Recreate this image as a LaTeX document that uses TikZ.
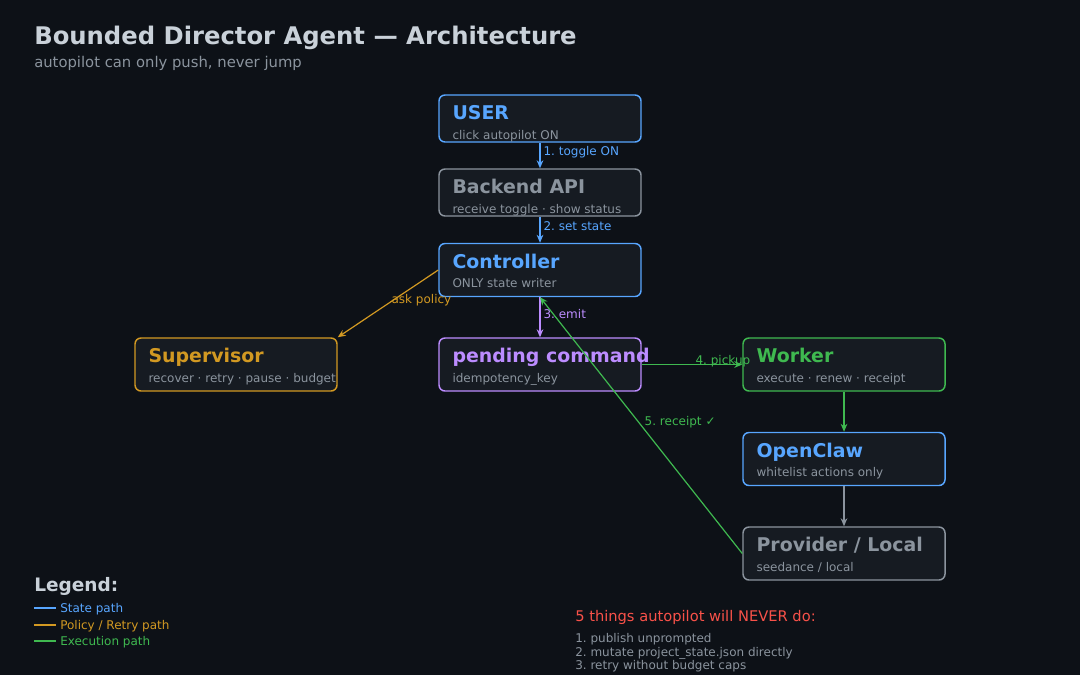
\documentclass[tikz,border=0pt]{standalone}
\usepackage{fontspec}
\setmainfont{DejaVu Sans}
\usetikzlibrary{arrows.meta,calc}
\definecolor{bgdark}{HTML}{0D1117}
\definecolor{boxfill}{HTML}{161B22}
\definecolor{headtxt}{HTML}{C9D1D9}
\definecolor{txtgray}{HTML}{8B949E}
\definecolor{cblue}{HTML}{58A6FF}
\definecolor{corange}{HTML}{D29922}
\definecolor{cpurple}{HTML}{BC8CFF}
\definecolor{cgreen}{HTML}{3FB950}
\definecolor{cred}{HTML}{F85149}
\frenchspacing
\begin{document}
\begin{tikzpicture}[
        x=0.75pt, y=-0.75pt,
        box/.style={rectangle, rounded corners=4.5pt, draw=#1, line width=1.1pt, fill=boxfill, minimum width=151.5pt, minimum height=39.75pt, inner sep=0pt},
        ttl/.style={text=#1, font=\bfseries\fontsize{14.2}{17}\selectfont, inner sep=0pt, anchor=base west},
        sub/.style={text=txtgray, font=\fontsize{9}{11}\selectfont, inner sep=0pt, anchor=base west},
        flow/.style={draw=#1, line width=0.9pt, -{Stealth[length=6pt,width=5pt]}},
        lbl/.style={text=#1, font=\fontsize{9}{11}\selectfont, inner sep=0pt, anchor=west, xshift=2.25pt, yshift=2.5pt},
        note/.style={font=\fontsize{9}{11}\selectfont, inner sep=0pt, anchor=base west}
    ]
    \fill[bgdark] (0,0) rectangle (1080,675);

    % heading
    \node[anchor=base west, inner sep=0pt, text=headtxt, font=\bfseries\fontsize{18.2}{22}\selectfont] (title) at (34,44) {Bounded Director Agent — Architecture};
    \node[anchor=base west, inner sep=0pt, text=txtgray, font=\fontsize{11.1}{13}\selectfont] (subtitle) at (34,67.5) {autopilot can only push, never jump};

    % boxes
    \node[box=cblue, minimum height=35.25pt] (user) at (540,118.5) {};
    \node[box=txtgray, minimum height=35.25pt] (backend) at (540,192.5) {};
    \node[box=cblue] (controller) at (540,270) {};
    \node[box=corange] (supervisor) at (236,364.5) {};
    \node[box=cpurple] (pending) at (540,364.5) {};
    \node[box=cgreen] (worker) at (844,364.5) {};
    \node[box=cblue] (openclaw) at (844,459) {};
    \node[box=txtgray] (provider) at (844,553.5) {};

    \node[ttl=cblue] (userT) at ($(user.north west)+(14,25.5)$) {USER};
    \node[sub] (userS) at ($(user.north west)+(14,45)$) {click autopilot ON};
    \node[ttl=txtgray] (backendT) at ($(backend.north west)+(14,25.5)$) {Backend API};
    \node[sub] (backendS) at ($(backend.north west)+(14,45)$) {receive toggle · show status};
    \node[ttl=cblue] (controllerT) at ($(controller.north west)+(14,25.5)$) {Controller};
    \node[sub] (controllerS) at ($(controller.north west)+(14,45)$) {ONLY state writer};
    \node[ttl=corange] (supervisorT) at ($(supervisor.north west)+(14,25.5)$) {Supervisor};
    \node[sub] (supervisorS) at ($(supervisor.north west)+(14,45)$) {recover · retry · pause · budget};
    \node[ttl=cpurple] (pendingT) at ($(pending.north west)+(14,25.5)$) {pending command};
    \node[sub] (pendingS) at ($(pending.north west)+(14,45)$) {idempotency\_key};
    \node[ttl=cgreen] (workerT) at ($(worker.north west)+(14,25.5)$) {Worker};
    \node[sub] (workerS) at ($(worker.north west)+(14,45)$) {execute · renew · receipt};
    \node[ttl=cblue] (openclawT) at ($(openclaw.north west)+(14,25.5)$) {OpenClaw};
    \node[sub] (openclawS) at ($(openclaw.north west)+(14,45)$) {whitelist actions only};
    \node[ttl=txtgray] (providerT) at ($(provider.north west)+(14,25.5)$) {Provider / Local};
    \node[sub] (providerS) at ($(provider.north west)+(14,45)$) {seedance / local};

    % connectors
    \draw[flow=cblue] (user) -- (backend) node[lbl=cblue, midway] (l1) {1. toggle ON};
    \draw[flow=cblue] (backend) -- (controller) node[lbl=cblue, midway] (l2) {2. set state};
    \draw[flow=cpurple] (controller) -- (pending) node[lbl=cpurple, midway] (l3) {3. emit};
    \draw[flow=corange] (controller.west) -- (supervisor.north east) node[lbl=corange, midway] (lp) {ask policy};
    \draw[flow=cgreen] (pending.east) -- (worker.west) node[lbl=cgreen, midway] (l4) {4. pickup};
    \draw[flow=cgreen] (worker) -- (openclaw);
    \draw[flow=txtgray] (openclaw) -- (provider);
    \draw[flow=cgreen] (provider.west) -- (controller.south) node[lbl=cgreen, midway] (l5) {5. receipt ✓};

    % legend
    \node[anchor=base west, inner sep=0pt, text=headtxt, font=\bfseries\fontsize{13.9}{16}\selectfont] (legend) at (34,591) {Legend:};
    \draw[cblue, line width=0.9pt] (34,608) -- (56,608);
    \draw[corange, line width=0.9pt] (34,625) -- (56,625);
    \draw[cgreen, line width=0.9pt] (34,641) -- (56,641);
    \node[note, text=cblue] (lgState) at (60,612) {State path};
    \node[note, text=corange] (lgPolicy) at (60,629) {Policy / Retry path};
    \node[note, text=cgreen] (lgExec) at (60,645) {Execution path};

    % never list
    \node[anchor=base west, inner sep=0pt, text=cred, font=\fontsize{11}{13}\selectfont] (never) at (575,621) {5 things autopilot will NEVER do:};
    \node[note, text=txtgray] (n1) at (575,642) {1. publish unprompted};
    \node[note, text=txtgray] (n2) at (575,656) {2. mutate project\_state.json directly};
    \node[note, text=txtgray] (n3) at (575,669) {3. retry without budget caps};
\end{tikzpicture}
\end{document}
